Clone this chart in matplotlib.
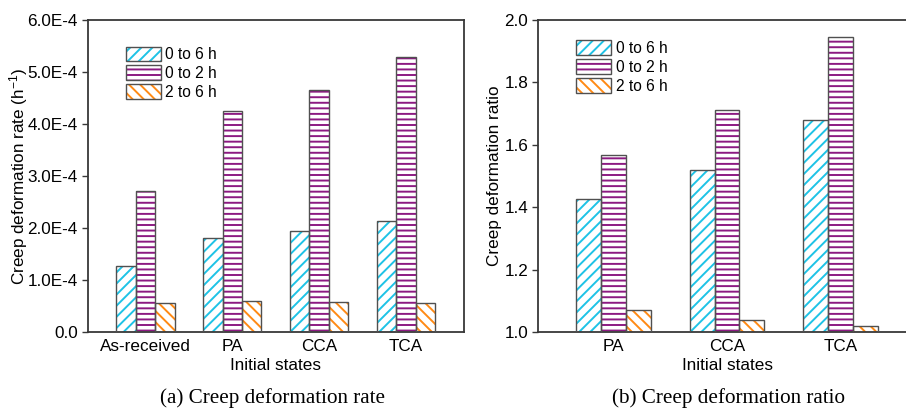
import numpy as np
import matplotlib
matplotlib.use("Agg")
from matplotlib import pyplot as plt
from matplotlib.patches import Patch
from matplotlib.legend_handler import HandlerTuple
from matplotlib.ticker import FuncFormatter, MultipleLocator

plt.rcParams['font.family'] = ['Liberation Sans', 'DejaVu Sans']
plt.rcParams['mathtext.fontset'] = 'custom'
plt.rcParams['mathtext.rm'] = 'Liberation Sans'
plt.rcParams['mathtext.it'] = 'Liberation Sans:italic'
plt.rcParams['hatch.linewidth'] = 1.4

# data
series = ['0 to 6 h', '0 to 2 h', '2 to 6 h']
hatches = ['///', '---', '\\\\\\']
colors = ['#1ec3e6', '#8c1a82', '#ff8a14']

states_a = ['As-received', 'PA', 'CCA', 'TCA']
rate_0_6 = [1.27e-4, 1.81e-4, 1.94e-4, 2.14e-4]
rate_0_2 = [2.72e-4, 4.25e-4, 4.65e-4, 5.28e-4]
rate_2_6 = [0.55e-4, 0.59e-4, 0.57e-4, 0.55e-4]

states_b = ['PA', 'CCA', 'TCA']
ratio_0_6 = [1.425, 1.518, 1.678]
ratio_0_2 = [1.568, 1.713, 1.945]
ratio_2_6 = [1.071, 1.040, 1.020]

edge = '#505050'
spine = '#383838'
fs = 12.3

fig = plt.figure(figsize=(9.06, 4.09), dpi=100)
W, H = 906, 409
ax1 = fig.add_axes([87.5 / W, 1 - 332 / H, (464 - 87.5) / W, (332 - 20) / H])
ax2 = fig.add_axes([538 / W, 1 - 332 / H, 378 / W, (332 - 20) / H])


def draw_bars(ax, cats, vals_list, width, base):
    x = np.arange(len(cats))
    for k, vals in enumerate(vals_list):
        pos = x + (k - 1) * width
        h = np.array(vals) - base
        ax.bar(pos, h, width, bottom=base, color='white', edgecolor=colors[k],
               hatch=hatches[k], linewidth=0, zorder=2)
        ax.bar(pos, h, width, bottom=base, fill=False, edgecolor=edge,
               linewidth=1.0, zorder=3)
    ax.set_xticks(x)
    ax.set_xticklabels(cats)


def style(ax):
    for s in ax.spines.values():
        s.set_color(spine)
        s.set_linewidth(1.3)
    ax.tick_params(axis='x', length=0, labelsize=fs, pad=5)
    ax.tick_params(axis='y', length=4, width=1, color=spine, labelsize=fs,
                   direction='out', pad=3)
    ax.set_xlabel('Initial states', fontsize=fs, labelpad=3)


def legend(ax, y):
    handles = []
    for k in range(3):
        hp = Patch(facecolor='white', edgecolor=colors[k], hatch=hatches[k], linewidth=0)
        op = Patch(fill=False, edgecolor=edge, linewidth=1.0)
        handles.append((hp, op))
    ax.legend(handles, series, handler_map={tuple: HandlerTuple(ndivide=1)},
              loc='upper left', bbox_to_anchor=(0.085, y), frameon=False,
              fontsize=11.2, handlelength=2.25, handleheight=1.1,
              labelspacing=0.2, handletextpad=0.3, borderaxespad=0)


draw_bars(ax1, states_a, [rate_0_6, rate_0_2, rate_2_6], 0.223, 0)
ax1.set_xlim(-0.667, 3.667)
ax1.set_ylim(0, 6e-4)
ax1.yaxis.set_major_locator(MultipleLocator(1e-4))
ax1.yaxis.set_major_formatter(FuncFormatter(
    lambda v, p: '0.0' if abs(v) < 1e-12 else '%.1fE-4' % (v * 1e4)))
ax1.set_ylabel('Creep deformation rate (h$^{-1}$)', fontsize=fs)
style(ax1)
legend(ax1, 0.935)

draw_bars(ax2, states_b, [ratio_0_6, ratio_0_2, ratio_2_6], 0.22, 1.0)
ax2.set_xlim(-0.668, 2.668)
ax2.set_ylim(1.0, 2.0)
ax2.yaxis.set_major_locator(MultipleLocator(0.2))
ax2.yaxis.set_major_formatter(FuncFormatter(lambda v, p: '%.1f' % v))
ax2.set_ylabel('Creep deformation ratio', fontsize=fs)
style(ax2)
legend(ax2, 0.955)
# place the ylabels where the reference has them
ax1.yaxis.set_label_coords(-0.153, 0.5)
ax2.yaxis.set_label_coords(-0.094, 0.5)

fig.text(273 / W, 1 - 398 / H, '(a) Creep deformation rate', ha='center', va='center',
         fontsize=15.2, family='Liberation Serif')
fig.text(728 / W, 1 - 398 / H, '(b) Creep deformation ratio', ha='center', va='center',
         fontsize=15.2, family='Liberation Serif')

fig.savefig('out.png', dpi=100)
